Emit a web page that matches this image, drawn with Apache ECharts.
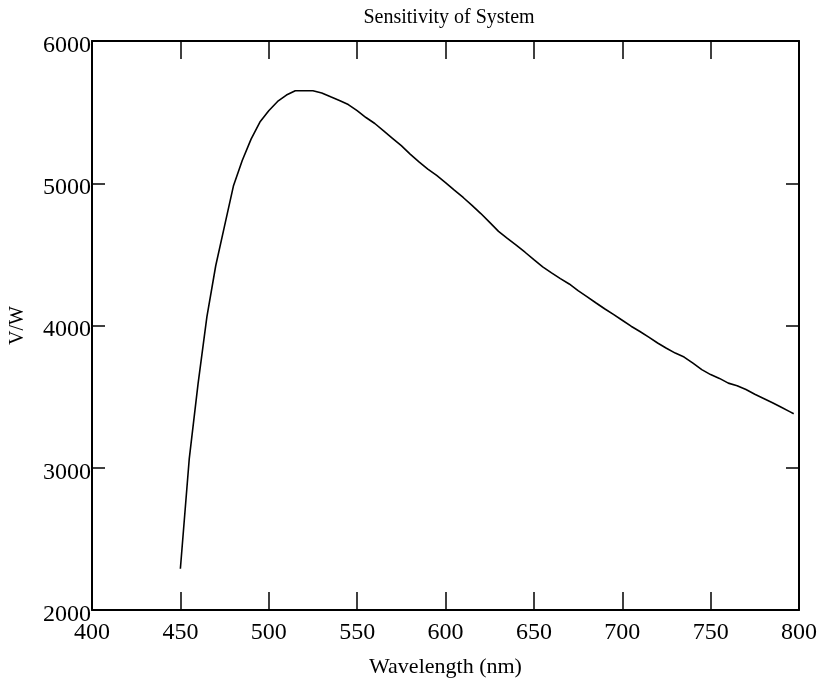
<!DOCTYPE html>
<html>
<head>
<meta charset="utf-8">
<script src="https://cdn.jsdelivr.net/npm/echarts@6/dist/echarts.min.js"></script>
<style>html,body{margin:0;padding:0;background:#fff}#c{width:829px;height:688px}</style>
</head>
<body>
<div id="c"></div>
<script>
var wavelengths = [450,455,460,465,470,475,480,485,490,495,500,505,510,515,520,525,530,535,540,545,550,555,560,565,570,575,580,585,590,595,600,605,610,615,620,625,630,635,640,645,650,655,660,665,670,675,680,685,690,695,700,705,710,715,720,725,730,735,740,745,750,755,760,765,770,775,780,785,790,795,797];
var sensitivity = [2290,3060,3590,4060,4420,4700,4980,5160,5310,5430,5510,5575,5620,5650,5650,5650,5635,5608,5582,5553,5510,5462,5420,5368,5316,5264,5205,5150,5100,5055,5005,4952,4900,4845,4787,4725,4662,4612,4565,4515,4463,4412,4370,4330,4292,4245,4203,4160,4118,4078,4037,3995,3958,3918,3877,3840,3806,3778,3735,3690,3655,3628,3595,3577,3550,3517,3487,3457,3425,3393,3380];
var xTicks = [400,450,500,550,600,650,700,750,800];
var yTicks = [2000,3000,4000,5000,6000];

var chart = echarts.init(document.getElementById('c'));
var font = '"Liberation Serif","Times New Roman",serif';
var pts = wavelengths.map(function(w,i){return [w, sensitivity[i]];});
var axisLine = {show:true, lineStyle:{color:'#000', width:2}};
chart.setOption({
  animation:false,
  backgroundColor:'#fff',
  title:{text:'Sensitivity of System', left:444, top:3, textAlign:'center',
    textStyle:{fontFamily:font, fontSize:20, fontWeight:'normal', color:'#000'}},
  grid:{left:91, right:30, top:41, bottom:78},
  xAxis:[{
    type:'value', min:xTicks[0], max:xTicks[xTicks.length-1], interval:50, position:'bottom',
    name:'Wavelength (nm)', nameLocation:'middle', nameGap:46,
    nameTextStyle:{fontFamily:font, fontSize:22, color:'#000'},
    axisLine:axisLine,
    axisTick:{show:true, inside:true, length:18, lineStyle:{color:'#000', width:1.5}},
    axisLabel:{fontFamily:font, fontSize:24, color:'#000', margin:11, showMinLabel:true, showMaxLabel:true,
      formatter:function(v){return String(v);}},
    splitLine:{show:false}
  },{
    type:'value', min:xTicks[0], max:xTicks[xTicks.length-1], interval:50, position:'top',
    axisLine:axisLine,
    axisTick:{show:true, inside:true, length:18, lineStyle:{color:'#000', width:1.5}},
    axisLabel:{show:false}, splitLine:{show:false}
  }],
  yAxis:[{
    type:'value', min:yTicks[0], max:yTicks[yTicks.length-1], interval:1000, position:'left',
    name:'V/W', nameLocation:'middle', nameGap:64, nameRotate:90,
    nameTextStyle:{fontFamily:font, fontSize:20, color:'#000'},
    axisLine:axisLine,
    axisTick:{show:true, inside:true, length:13, lineStyle:{color:'#000', width:1.5}},
    axisLabel:{color:'#000', margin:1, showMinLabel:true, showMaxLabel:true,
      formatter:function(v){return '{a|' + v + '}';},
      rich:{a:{fontFamily:font, fontSize:24, color:'#000', padding:[9,0,0,0]}}},
    splitLine:{show:false}
  },{
    type:'value', min:yTicks[0], max:yTicks[yTicks.length-1], interval:1000, position:'right',
    axisLine:axisLine,
    axisTick:{show:true, inside:true, length:13, lineStyle:{color:'#000', width:1.5}},
    axisLabel:{show:false}, splitLine:{show:false}
  }],
  series:[{
    type:'line', xAxisIndex:0, yAxisIndex:0, data:pts, showSymbol:false,
    lineStyle:{color:'#000', width:1.6}
  }]
});
</script>
</body>
</html>
